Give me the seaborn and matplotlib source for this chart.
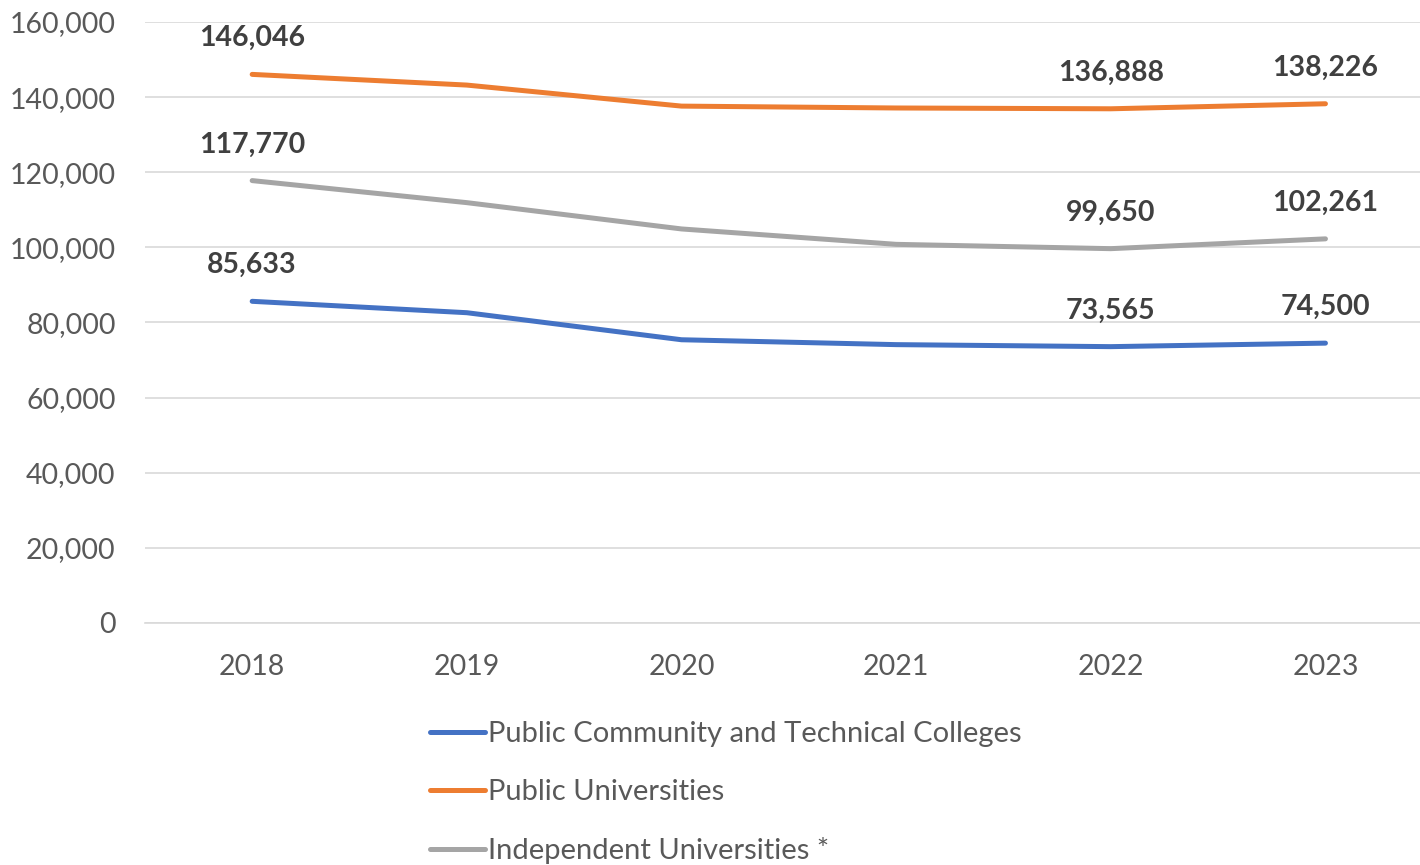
import pandas as pd
import matplotlib.pyplot as plt
import seaborn as sns
from matplotlib.ticker import FuncFormatter

years = ['2018', '2019', '2020', '2021', '2022', '2023']
community = [85633, 82600, 75400, 74100, 73565, 74500]
public_univ = [146046, 143200, 137600, 137100, 136888, 138226]
independent = [117770, 111900, 104900, 100800, 99650, 102261]

series_names = ['Public Community and Technical Colleges', 'Public Universities',
                'Independent Universities *']
colors = ['#4472C4', '#ED7D31', '#A5A5A5']
labeled_years = ['2018', '2022', '2023']

rows = []
for name, vals in zip(series_names, [community, public_univ, independent]):
    for i, (yr, v) in enumerate(zip(years, vals)):
        rows.append({'pos': i, 'year': yr, 'series': name, 'value': v})
df = pd.DataFrame(rows)

sns.set_theme(style='white')
plt.rcParams['font.family'] = ['Lato', 'DejaVu Sans']

fig = plt.figure(figsize=(14.2, 8.65), dpi=100)
ax = fig.add_axes([0.102, 0.2798, 0.907, 0.6948])

sns.lineplot(data=df, x='pos', y='value', hue='series', hue_order=series_names,
             palette=colors, linewidth=3.6, ax=ax, legend=False)

# value labels only on first and last two years
for name, c in zip(series_names, colors):
    sub = df[(df['series'] == name) & (df['year'].isin(labeled_years))]
    for _, r in sub.iterrows():
        ax.annotate(f"{r['value']:,}", (r['pos'], r['value']), xytext=(0, 26),
                    textcoords='offset points', ha='center', va='center',
                    fontsize=20.5, fontweight='bold', color='#404040')

ax.set_xlim(-0.5, 5.5)
ax.set_ylim(0, 160000)
ax.set_yticks(range(0, 160001, 20000))
ax.yaxis.set_major_formatter(FuncFormatter(lambda v, p: f'{int(v):,}'))
ax.set_xticks(range(len(years)))
ax.set_xticklabels(years)
ax.tick_params(axis='both', length=0, labelsize=20.5, colors='#595959')
ax.tick_params(axis='x', pad=22)
ax.tick_params(axis='y', pad=21)
ax.grid(axis='y', color='#D9D9D9', linewidth=1.2)
ax.set_axisbelow(True)
for s in ['top', 'right', 'left']:
    ax.spines[s].set_visible(False)
ax.spines['bottom'].set_color('#D9D9D9')
ax.spines['bottom'].set_linewidth(1.2)
ax.set_xlabel('')
ax.set_ylabel('')

handles = [plt.Line2D([], [], color=c, linewidth=3.6, solid_capstyle='round') for c in colors]
fig.legend(handles, series_names, loc='upper left', bbox_to_anchor=(0.303, 0.1665),
           frameon=False, fontsize=21, labelcolor='#595959', handlelength=1.89,
           handletextpad=0.1, labelspacing=1.1, borderaxespad=0, borderpad=0)

fig.savefig('out.png', dpi=100)
